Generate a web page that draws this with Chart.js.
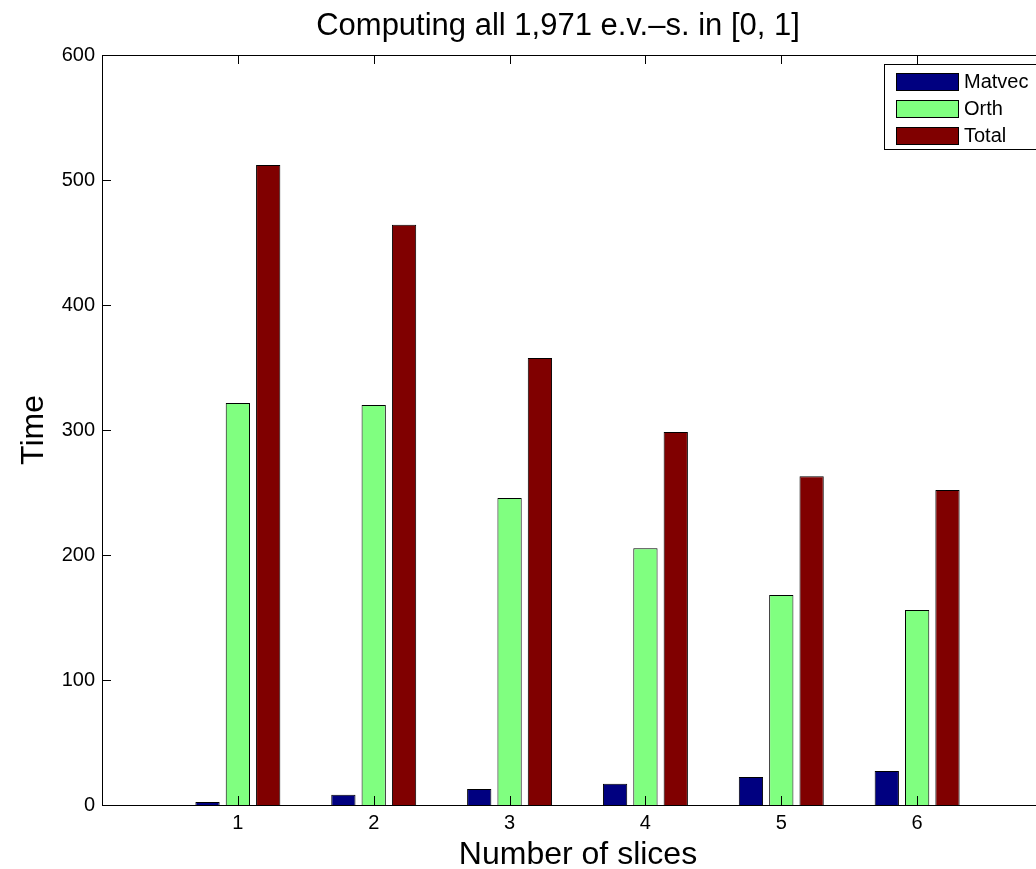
<!DOCTYPE html>
<html>
<head>
<meta charset="utf-8">
<script src="https://cdn.jsdelivr.net/npm/chart.js@4/dist/chart.umd.min.js"></script>
<style>
  html, body { margin: 0; padding: 0; background: #fff; overflow: hidden; }
  #wrap { width: 1080px; height: 869px; }
</style>
</head>
<body>
<div id="wrap"><canvas id="chart" width="1080" height="869"></canvas></div>
<script>
const categories = [1, 2, 3, 4, 5, 6];
const matvec = [2.4, 8.3, 12.8, 17, 22.4, 27.2];
const orth = [321.6, 320, 245.6, 205.5, 168, 156];
const total = [512, 464.3, 357.6, 298.4, 263, 252];
const yTicks = [0, 100, 200, 300, 400, 500, 600];

const FONT = "'Liberation Sans', Arial, Helvetica, sans-serif";

function points(vals) {
    return categories.map((c, i) => ({ x: c, y: vals[i] }));
}

/* MATLAB-ish frame: box, inward ticks, titles, boxed legend */
const framePlugin = {
    id: "frame",
    afterDraw(chart) {
        const ctx = chart.ctx;
        const a = chart.chartArea;
        const xs = chart.scales.x, ys = chart.scales.y;
        ctx.save();
        ctx.strokeStyle = "#000";
        ctx.lineWidth = 1;
        ctx.strokeRect(a.left + 0.5, a.top + 0.5, a.right - a.left, a.bottom - a.top);

        // inward tick marks
        ctx.beginPath();
        categories.forEach(c => {
            const px = Math.round(xs.getPixelForValue(c)) + 0.5;
            ctx.moveTo(px, a.bottom); ctx.lineTo(px, a.bottom - 9);
            ctx.moveTo(px, a.top); ctx.lineTo(px, a.top + 9);
        });
        yTicks.forEach(v => {
            const py = Math.round(ys.getPixelForValue(v)) + 0.5;
            ctx.moveTo(a.left, py); ctx.lineTo(a.left + 9, py);
            ctx.moveTo(a.right, py); ctx.lineTo(a.right - 9, py);
        });
        ctx.stroke();

        // titles
        ctx.fillStyle = "#000";
        ctx.textAlign = "center";
        ctx.textBaseline = "alphabetic";
        ctx.font = "31px " + FONT;
        ctx.fillText("Computing all 1,971 e.v.\u2013s. in [0, 1]", 558, 35);
        ctx.font = "32px " + FONT;
        ctx.fillText("Number of slices", 578, 864);
        ctx.save();
        ctx.translate(43, (a.top + a.bottom) / 2);
        ctx.rotate(-Math.PI / 2);
        ctx.fillText("Time", 0, 0);
        ctx.restore();

        // legend
        const lx = 884, ly = 64, lw = 170, lh = 85;
        ctx.fillStyle = "#fff";
        ctx.fillRect(lx, ly, lw, lh);
        ctx.strokeRect(lx + 0.5, ly + 0.5, lw, lh);
        ctx.font = "20px " + FONT;
        ctx.textAlign = "left";
        ctx.textBaseline = "middle";
        chart.data.datasets.forEach((ds, i) => {
            const cy = 81 + i * 27;
            ctx.fillStyle = ds.backgroundColor;
            ctx.fillRect(896, cy - 8, 62, 17);
            ctx.strokeRect(896.5, cy - 7.5, 62, 17);
            ctx.fillStyle = "#000";
            ctx.fillText(ds.label, 964, cy + 1);
        });
        ctx.restore();
    }
};

new Chart(document.getElementById("chart"), {
    type: "bar",
    data: {
        datasets: [
            { label: "Matvec", data: points(matvec), backgroundColor: "#000080" },
            { label: "Orth", data: points(orth), backgroundColor: "#80ff80" },
            { label: "Total", data: points(total), backgroundColor: "#800000" }
        ]
    },
    options: {
        responsive: false,
        animation: false,
        events: [],
        layout: { padding: { left: 0, top: 55, right: 27, bottom: 0 } },
        datasets: {
            bar: {
                borderColor: "#000",
                borderWidth: 1,
                categoryPercentage: 0.67,
                barPercentage: 0.8
            }
        },
        plugins: {
            legend: { display: false },
            title: { display: false },
            tooltip: { enabled: false }
        },
        scales: {
            x: {
                type: "linear",
                min: 0,
                max: 7,
                offset: false,
                grid: { display: false, drawTicks: false, offset: false },
                border: { display: false },
                afterFit: s => { s.height = 64; },
                afterBuildTicks: s => { s.ticks = categories.map(v => ({ value: v })); },
                ticks: {
                    padding: 6,
                    color: "#000",
                    font: { family: FONT, size: 20 },
                    maxRotation: 0,
                    callback: v => String(v)
                }
            },
            y: {
                min: 0,
                max: 600,
                grid: { display: false, drawTicks: false },
                border: { display: false },
                afterFit: s => { s.width = 102; },
                afterBuildTicks: s => { s.ticks = yTicks.map(v => ({ value: v })); },
                ticks: {
                    padding: 7,
                    color: "#000",
                    font: { family: FONT, size: 20 },
                    callback: v => String(v)
                }
            }
        }
    },
    plugins: [framePlugin]
});
</script>
</body>
</html>
